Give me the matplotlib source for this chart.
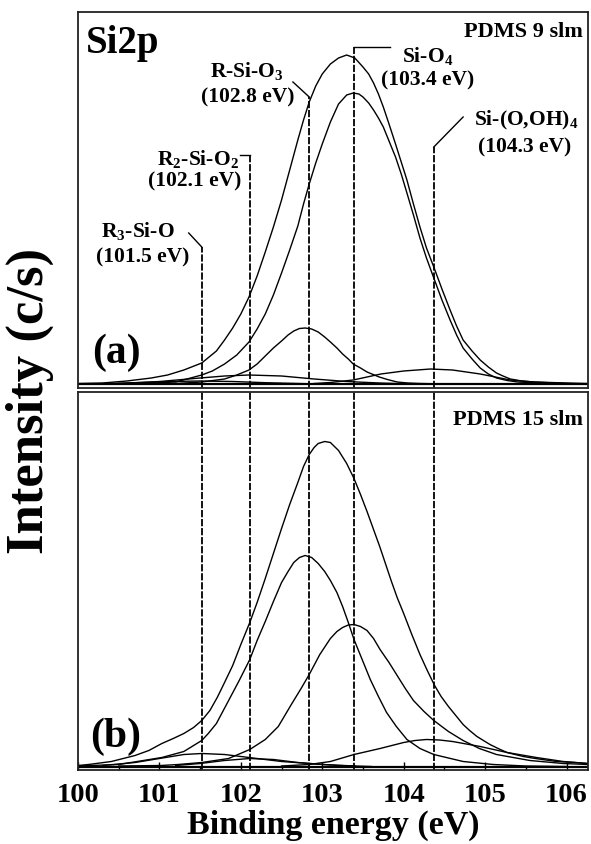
import matplotlib
matplotlib.use("Agg")
import matplotlib.pyplot as plt
from matplotlib.ticker import MultipleLocator

plt.rcParams['font.family'] = ['Liberation Serif', 'DejaVu Serif']
plt.rcParams['font.weight'] = 'bold'
plt.rcParams['mathtext.fontset'] = 'custom'
plt.rcParams['mathtext.rm'] = 'Liberation Serif:bold'
plt.rcParams['mathtext.bf'] = 'Liberation Serif:bold'

# ---------------- data (binding energy eV, intensity a.u.) ----------------
# Panel (a): PDMS 9 slm
a_env_x = [100.0, 100.3, 100.6, 100.9, 101.1, 101.3, 101.52, 101.61, 101.7, 101.8, 101.9, 102.0,
           102.1, 102.2, 102.3, 102.4, 102.5, 102.6, 102.7, 102.77, 102.84, 102.92, 103.0, 103.1,
           103.2, 103.3, 103.4, 103.5, 103.57, 103.63, 103.69, 103.75, 103.82, 103.9, 103.97,
           104.04, 104.12, 104.2, 104.28, 104.37, 104.47, 104.57, 104.65, 104.73, 104.84, 104.94,
           105.04, 105.14, 105.22, 105.31, 105.45, 105.6, 106.0, 106.26]
a_env_y = [0.5, 1, 3, 6, 9, 14, 21, 27, 33, 44, 56, 70,
           87, 108, 132, 157, 184, 214, 244, 264, 282, 298, 310, 320,
           326, 329, 326, 317, 310, 301, 290, 277, 260, 240, 222,
           204, 180, 157, 136, 117, 95, 74, 58, 44, 33, 24,
           17, 11, 8, 5, 3, 2, 1, 0.5]

a_sio4_x = [100.5, 100.9, 101.2, 101.52, 101.65, 101.8, 101.95, 102.1, 102.2, 102.3, 102.4, 102.5,
            102.6, 102.7, 102.77, 102.84, 102.92, 103.0, 103.1, 103.2, 103.3, 103.38, 103.45, 103.5,
            103.57, 103.63, 103.69, 103.75, 103.82, 103.9, 103.97, 104.04, 104.12, 104.2, 104.28,
            104.37, 104.47, 104.57, 104.65, 104.73, 104.84, 104.94, 105.04, 105.14, 105.27, 105.4,
            105.8, 106.26]
a_sio4_y = [0, 1, 2, 9, 13, 20, 29, 42, 55, 70, 89, 111,
            134, 158, 180, 200, 221, 240, 262, 280, 289, 291, 290, 287,
            281, 274, 266, 257, 243, 227, 210, 191, 169, 146, 126,
            106, 84, 64, 49, 36, 25, 16, 10, 6, 3.5, 2,
            0.5, 0]

a_rsio3_x = [101.2, 101.52, 101.8, 101.95, 102.1, 102.2, 102.3, 102.4, 102.5, 102.58, 102.65, 102.72,
             102.79, 102.87, 102.95, 103.03, 103.1, 103.18, 103.25, 103.32, 103.38, 103.47, 103.55,
             103.7, 103.8, 103.92, 104.05, 104.2, 104.5]
a_rsio3_y = [0.5, 2, 5, 9, 14, 20, 28, 36, 43, 49, 53, 55.5,
             56, 55, 52, 47, 42, 36, 30, 25, 20, 16, 12,
             7, 4.5, 2, 1, 0.5, 0]

a_sioh_x = [102.9, 103.1, 103.38, 103.72, 104.0, 104.33, 104.6, 104.94, 105.31, 105.6, 106.0, 106.26]
a_sioh_y = [0.5, 1.5, 4, 10, 13, 15, 14, 10, 4, 2, 0.5, 0]

a_r2_x = [100.5, 101.0, 101.5, 101.8, 102.1, 102.5, 102.9, 103.3, 103.7, 104.1]
a_r2_y = [0.5, 2.5, 6, 8, 9, 8, 5, 2.5, 1, 0]

a_r3_x = [100.3, 100.8, 101.2, 101.5, 101.9, 102.3, 102.8, 103.2]
a_r3_y = [0.3, 1.5, 2.6, 3, 2.5, 1.3, 0.3, 0]

# Panel (b): PDMS 15 slm
b_env_x = [100.0, 100.13, 100.41, 100.7, 100.87, 101.03, 101.17, 101.3, 101.42, 101.52, 101.62,
           101.71, 101.8, 101.9, 102.0, 102.11, 102.2, 102.3, 102.4, 102.5, 102.6, 102.7, 102.77,
           102.84, 102.9, 102.95, 103.03, 103.1, 103.2, 103.3, 103.39, 103.47, 103.55, 103.63,
           103.71, 103.78, 103.85, 103.92, 104.0, 104.1, 104.2, 104.29, 104.38, 104.46, 104.55,
           104.64, 104.73, 104.81, 104.9, 105.06, 105.16, 105.27, 105.37, 105.47, 105.58, 105.7,
           105.88, 106.1, 106.26]
b_env_y = [1, 2, 5, 11, 16, 23, 28, 33, 39, 46, 56,
           69, 84, 101, 122, 144, 164, 188, 213, 238, 262, 284, 300,
           312, 319, 323, 325, 324, 316, 303, 288, 272, 255, 237,
           219, 202, 185, 169, 153, 132, 112, 96, 81, 70, 60,
           51, 42, 36, 30, 22, 18, 14, 12, 10, 8.5, 7,
           5, 4, 3]

b_rsio3_x = [100.0, 100.5, 101.03, 101.3, 101.52, 101.6, 101.7, 101.85, 101.98, 102.11, 102.2, 102.3,
             102.4, 102.5, 102.58, 102.65, 102.72, 102.79, 102.87, 102.95, 103.03, 103.1, 103.18,
             103.25, 103.32, 103.39, 103.49, 103.59, 103.69, 103.79, 103.91, 104.04, 104.2, 104.37,
             104.73, 105.1, 105.5, 106.0]
b_rsio3_y = [0.5, 2, 9, 15, 26, 33, 43, 66, 86, 107, 126, 145,
             165, 184, 195, 204, 209, 211, 209, 203, 195, 186, 174,
             160, 144, 127, 107, 87, 70, 54, 40, 27, 18, 12,
             5, 2, 0.5, 0]

b_sio4_x = [100.5, 101.02, 101.23, 101.52, 101.85, 102.11, 102.3, 102.46, 102.62, 102.74, 102.84,
            102.97, 103.1, 103.18, 103.25, 103.32, 103.39, 103.47, 103.55, 103.63, 103.71, 103.82,
            103.92, 104.02, 104.12, 104.25, 104.37, 104.55, 104.73, 104.93, 105.14, 105.55, 105.96,
            106.26]
b_sio4_y = [0.5, 1, 2, 4, 8, 17, 27, 40, 62, 78, 92,
            112, 128, 135, 139, 141.5, 142, 140, 136, 128, 117, 104,
            91, 78, 66, 55, 46, 35, 26, 18, 12, 6, 3,
            2]

b_sioh_x = [102.5, 102.84, 103.1, 103.39, 103.71, 104.0, 104.14, 104.28, 104.44, 104.6, 104.94,
            105.27, 105.63, 105.96, 106.26]
b_sioh_y = [0.5, 2, 5, 12, 18, 24, 26, 27, 26.5, 25, 20,
            14, 9, 5, 3]

b_r3_x = [100.3, 100.7, 101.0, 101.3, 101.52, 101.8, 102.1, 102.5, 102.84, 103.2, 103.6]
b_r3_y = [1, 4, 8, 12, 13, 12, 9, 5, 3, 1, 0]

b_r2_x = [101.2, 101.5, 101.8, 102.11, 102.4, 102.7, 103.0, 103.4]
b_r2_y = [1, 3, 6, 8, 7, 4, 2, 0.5]

# Peak assignments
peak_pos = [101.52, 102.11, 102.84, 103.39, 104.37]
peak_names = [r'R$_{3}$-Si-O', r'R$_{2}$-Si-O$_{2}$', r'R-Si-O$_{3}$', r'Si-O$_{4}$', r'Si-(O,OH)$_{4}$']
peak_ev = ['(101.5 eV)', '(102.1 eV)', '(102.8 eV)', '(103.4 eV)', '(104.3 eV)']
line_top = [137, 229, 287, 337, 237]          # top of the marker line in panel (a)
leader_end_x = [101.36, 101.99, 102.64, 103.83, 104.73]
leader_end_y = [151, 229, 302, 337, 267]
name_xy = [(100.74, 152), (101.47, 224), (102.08, 312), (104.29, 327), (105.50, 264)]
ev_xy = [(100.79, 127), (101.43, 203), (102.08, 287), (104.29, 304), (105.48, 237)]

x_ticks = [100, 101, 102, 103, 104, 105, 106]

# ---------------- figure ----------------
fig = plt.figure(figsize=(5.91, 8.44), dpi=100)
ax_a = fig.add_axes([78 / 591, 1 - 388 / 844, 510 / 591, 376 / 844])
ax_b = fig.add_axes([78 / 591, 1 - 770 / 844, 510 / 591, 378 / 844])

lw = 1.0
for ax, series in [
    (ax_a, [(a_env_x, a_env_y), (a_sio4_x, a_sio4_y), (a_rsio3_x, a_rsio3_y),
            (a_sioh_x, a_sioh_y), (a_r2_x, a_r2_y), (a_r3_x, a_r3_y)]),
    (ax_b, [(b_env_x, b_env_y), (b_rsio3_x, b_rsio3_y), (b_sio4_x, b_sio4_y),
            (b_sioh_x, b_sioh_y), (b_r3_x, b_r3_y), (b_r2_x, b_r2_y)])]:
    for xs, ys in series:
        ax.plot(xs, ys, color='black', lw=lw, solid_joinstyle='round')
    ax.axhline(0, color='black', lw=1.6)
    ax.set_xlim(100.0, 106.264)
    for sp in ax.spines.values():
        sp.set_linewidth(1.3)
        sp.set_color('#222222')
    ax.set_yticks([])

ax_a.set_ylim(-4, 372)
ax_b.set_ylim(-3.5, 374.5)

dash = (0, (4, 1))
for i, xp in enumerate(peak_pos):
    ax_b.axvline(xp, color='black', lw=1.3, ls=dash)
    ax_a.plot([xp, xp], [-4, line_top[i]], color='black', lw=1.3, ls=dash)
    ax_a.plot([xp, leader_end_x[i]], [line_top[i], leader_end_y[i]], color='black', lw=1.0)
    ax_a.text(name_xy[i][0], name_xy[i][1], peak_names[i], ha='center', va='center',
              fontsize=15.5, fontweight='bold')
    ax_a.text(ev_xy[i][0], ev_xy[i][1], peak_ev[i], ha='center', va='center',
              fontsize=15.5, fontweight='bold')

ax_a.set_xticks([])
ax_b.set_xticks(x_ticks)
ax_b.xaxis.set_minor_locator(MultipleLocator(0.5))
ax_b.tick_params(axis='x', which='major', direction='in', length=6, width=1.0,
                 labelsize=20.5, pad=9)
ax_b.tick_params(axis='x', which='minor', direction='in', length=3, width=1.0)
for t in ax_b.get_xticklabels():
    t.set_fontweight('bold')

ax_a.text(0.016, 0.915, 'Si2p', transform=ax_a.transAxes, fontsize=28, fontweight='bold',
          ha='left', va='center')
ax_a.text(0.99, 0.946, 'PDMS 9 slm', transform=ax_a.transAxes, fontsize=16, fontweight='bold',
          ha='right', va='center')
ax_b.text(0.99, 0.926, 'PDMS 15 slm', transform=ax_b.transAxes, fontsize=16, fontweight='bold',
          ha='right', va='center')
ax_a.text(0.076, 0.093, '(a)', transform=ax_a.transAxes, fontsize=30, fontweight='bold',
          ha='center', va='center')
ax_b.text(0.074, 0.087, '(b)', transform=ax_b.transAxes, fontsize=30, fontweight='bold',
          ha='center', va='center')

ax_b.set_xlabel('Binding energy (eV)', fontsize=24.5, fontweight='bold', labelpad=1.5)
fig.text(30 / 591, 1 - 401 / 844, 'Intensity (c/s)', rotation=90, fontsize=38,
         fontweight='bold', ha='center', va='center')

fig.savefig('out.png', dpi=100)
